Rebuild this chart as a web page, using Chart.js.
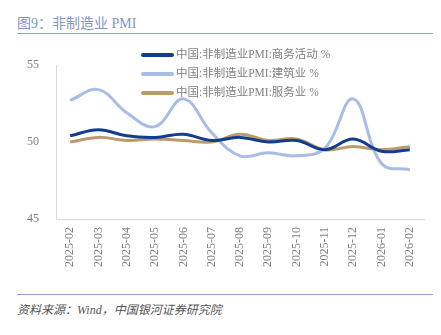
<!DOCTYPE html>
<html>
<head>
<meta charset="utf-8">
<script src="https://cdn.jsdelivr.net/npm/chart.js@4"></script>
<style>
  body { margin: 0; background: #fff; width: 441px; height: 335px; position: relative; overflow: hidden; }
  .title { position: absolute; left: 17px; top: 12px; font: 14px "Liberation Serif", "Noto Sans CJK SC", serif; color: #8395c4; }
  .rule { position: absolute; left: 17px; width: 416px; height: 0; border-top: 1.5px solid #8ea2d0; }
  .source { position: absolute; left: 17px; top: 300px; font: italic 12px "Liberation Serif", "Noto Sans CJK SC", serif; color: #555; }
  canvas { position: absolute; left: 0; top: 0; }
</style>
</head>
<body>
<div class="title">图9：非制造业 PMI</div>
<div class="rule" style="top:33px"></div>
<div class="rule" style="top:294px"></div>
<div class="source">资料来源：Wind，中国银河证券研究院</div>
<canvas id="pmiChart" width="441" height="335"></canvas>
<script>
const months = ["2025-02", "2025-03", "2025-04", "2025-05", "2025-06", "2025-07", "2025-08",
  "2025-09", "2025-10", "2025-11", "2025-12", "2026-01", "2026-02"];
const businessActivity = [50.4, 50.8, 50.4, 50.3, 50.5, 50.1, 50.3, 50.0, 50.1, 49.5, 50.2, 49.4, 49.5];
const construction = [52.7, 53.4, 51.9, 51.0, 52.8, 50.6, 49.1, 49.3, 49.1, 49.6, 52.8, 48.6, 48.2];
const services = [50.0, 50.3, 50.1, 50.2, 50.1, 50.0, 50.5, 50.1, 50.2, 49.5, 49.7, 49.5, 49.7];
const seriesNames = ["中国:非制造业PMI:商务活动 %", "中国:非制造业PMI:建筑业 %", "中国:非制造业PMI:服务业 %"];
const yTicks = [45, 50, 55];

const tickFont = { family: "'Liberation Serif', 'Noto Sans CJK SC', serif", size: 12 };

// legend drawn as a stacked, left-aligned list like the original
const stackedLegend = {
  id: "stackedLegend",
  afterDraw(chart) {
    const ctx = chart.ctx;
    ctx.save();
    chart.data.datasets.forEach((ds, i) => {
      const y = 55 + i * 19;
      ctx.strokeStyle = ds.borderColor;
      ctx.lineWidth = 4;
      ctx.lineCap = "round";
      ctx.beginPath();
      ctx.moveTo(143, y);
      ctx.lineTo(172, y);
      ctx.stroke();
      ctx.fillStyle = "#808080";
      ctx.font = "11.5px 'Liberation Serif', 'Noto Sans CJK SC', serif";
      ctx.textBaseline = "middle";
      ctx.fillText(ds.label, 176, y);
    });
    ctx.restore();
  }
};

new Chart(document.getElementById("pmiChart"), {
  type: "line",
  data: {
    labels: months,
    datasets: [
      { label: seriesNames[0], data: businessActivity, borderColor: "#123c8f" },
      { label: seriesNames[1], data: construction, borderColor: "#a8bde6" },
      { label: seriesNames[2], data: services, borderColor: "#bb9a6c" }
    ]
  },
  options: {
    responsive: false,
    animation: false,
    layout: { padding: { left: 10, right: 17, top: 65, bottom: 56 } },
    elements: {
      line: { borderWidth: 3, tension: 0.4, fill: false },
      point: { radius: 0 }
    },
    plugins: { legend: { display: false }, tooltip: { enabled: false } },
    scales: {
      x: {
        offset: true,
        grid: { display: false, drawTicks: false },
        border: { color: "#d9d9d9", width: 1 },
        ticks: { minRotation: 90, maxRotation: 90, padding: 8, color: "#808080", font: tickFont, autoSkip: false },
        afterFit: (s) => { s.height = 60; }
      },
      y: {
        min: 45,
        max: 55,
        afterBuildTicks: (s) => { s.ticks = yTicks.map((v) => ({ value: v })); },
        grid: { display: false, drawTicks: false },
        border: { color: "#d9d9d9", width: 1 },
        ticks: { padding: 17, color: "#808080", font: tickFont },
        afterFit: (s) => { s.width = 46; }
      }
    }
  },
  plugins: [stackedLegend]
});
</script>
</body>
</html>
